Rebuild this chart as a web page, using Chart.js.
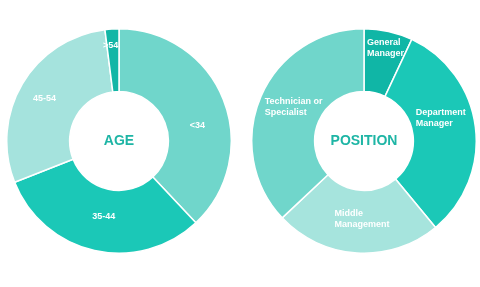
<!DOCTYPE html>
<html>
<head>
<meta charset="utf-8">
<script src="https://cdn.jsdelivr.net/npm/chart.js@4/dist/chart.umd.min.js"></script>
<style>
    html, body { margin: 0; padding: 0; background: #ffffff; }
    body { width: 480px; height: 287px; position: relative; overflow: hidden; }
    .wrap { position: absolute; top: 28px; width: 226px; height: 226px; }
    #age-wrap { left: 6px; }
    #pos-wrap { left: 251px; }
</style>
</head>
<body>
<div class="wrap" id="age-wrap"><canvas id="age-chart"></canvas></div>
<div class="wrap" id="pos-wrap"><canvas id="pos-chart"></canvas></div>
<script>
// Data
const ageLabels = [["<34"], ["35-44"], ["45-54"], [">54"]];
const ageValues = [38, 31, 29, 2];
const ageColors = ["#70d6cb", "#1bc8b7", "#a5e3dd", "#12b6a6"];

const positionLabels = [
    ["General", "Manager"],
    ["Department", "Manager"],
    ["Middle", "Management"],
    ["Technician or", "Specialist"],
];
const positionValues = [7, 32, 24, 37];
const positionColors = ["#10b6a6", "#1bc8b7", "#a6e4dd", "#70d6cb"];

// label placement: [angle fraction within the slice, radius in px from centre]
const ageLabelPos = [[0.574, 80], [0.49, 77], [0.494, 86], [0.3, 96]];
const positionLabelPos = [[0.52, 95], [0.42, 80], [0.476, 78], [0.517, 78]];

const teal = "#1eb5a5";

// draws slice labels and the centre title
const doughnutText = {
    id: "doughnutText",
    afterDatasetsDraw(chart, args, opts) {
        const { ctx } = chart;
        const arcs = chart.getDatasetMeta(0).data;
        if (!arcs.length) return;
        ctx.save();
        ctx.textBaseline = "middle";
        ctx.fillStyle = "#ffffff";
        ctx.font = "bold 9px 'Liberation Sans', Arial, sans-serif";
        const lineH = 11;
        arcs.forEach((arc, i) => {
            const { x, y, startAngle, endAngle } = arc.getProps(["x", "y", "startAngle", "endAngle"], true);
            const [frac, r] = opts.pos[i];
            const a = startAngle + (endAngle - startAngle) * frac;
            const px = x + Math.cos(a) * r;
            const py = y + Math.sin(a) * r;
            const lines = opts.labels[i];
            const w = Math.max(...lines.map((l) => ctx.measureText(l).width));
            ctx.textAlign = "left";
            lines.forEach((l, j) => {
                const ly = py - ((lines.length - 1) * lineH) / 2 + j * lineH;
                ctx.fillText(l, px - w / 2, ly);
            });
        });
        const c = arcs[0];
        ctx.fillStyle = teal;
        ctx.textAlign = "center";
        ctx.font = "bold 14px 'Liberation Sans', Arial, sans-serif";
        ctx.fillText(opts.title, c.x, c.y);
        ctx.restore();
    },
};

const makeDoughnut = (id, values, colors, labels, pos, title) => {
    const ctx = document.getElementById(id);
    return new Chart(ctx, {
        type: "doughnut",
        data: {
            labels: labels.map((l) => l.join(" ")),
            datasets: [
                {
                    data: values,
                    backgroundColor: colors,
                    borderColor: "#ffffff",
                    borderWidth: 1.5,
                    hoverOffset: 0,
                },
            ],
        },
        options: {
            responsive: true,
            maintainAspectRatio: false,
            animation: false,
            cutout: "44%",
            layout: { padding: 0 },
            plugins: {
                legend: { display: false },
                tooltip: { enabled: false },
                doughnutText: { labels, pos, title },
            },
        },
        plugins: [doughnutText],
    });
};

makeDoughnut("age-chart", ageValues, ageColors, ageLabels, ageLabelPos, "AGE");
makeDoughnut("pos-chart", positionValues, positionColors, positionLabels, positionLabelPos, "POSITION");
</script>
</body>
</html>
